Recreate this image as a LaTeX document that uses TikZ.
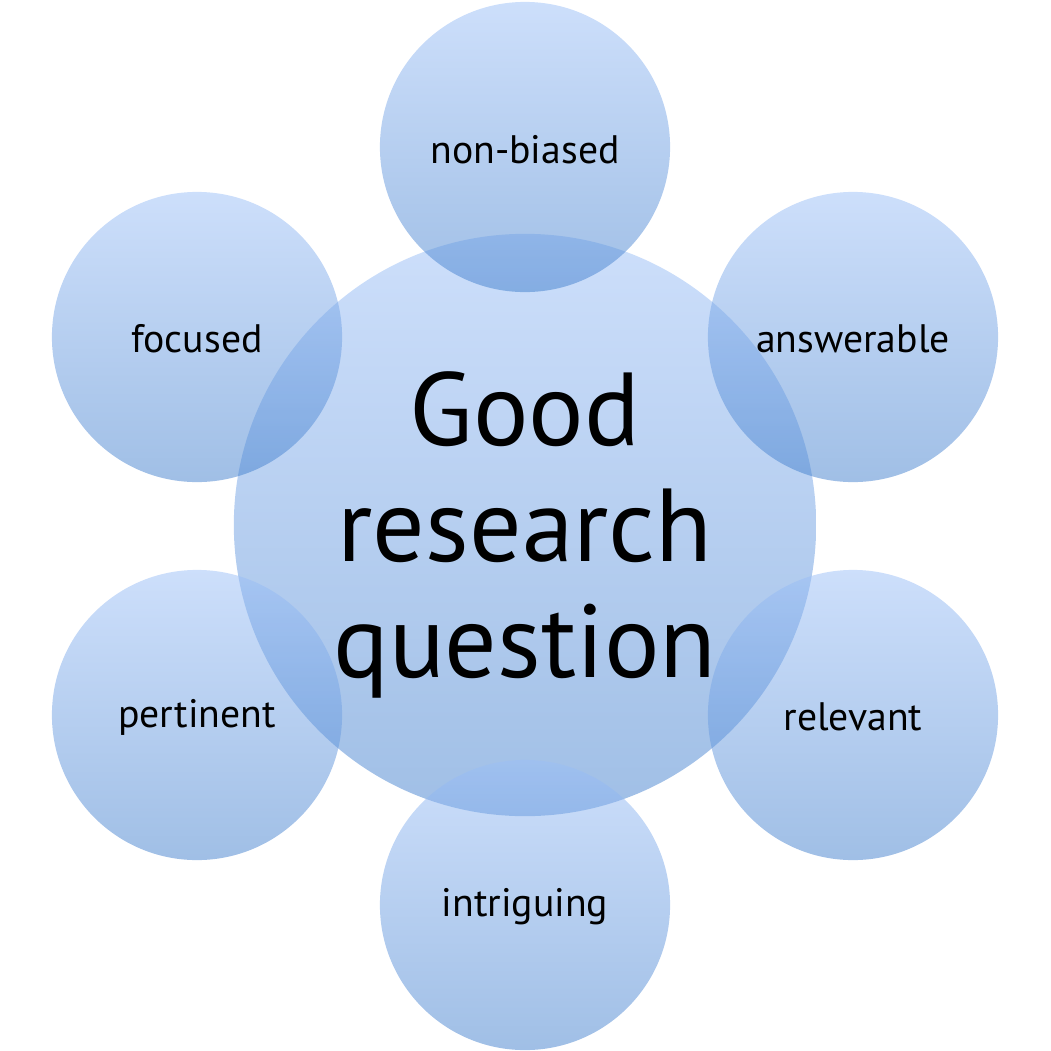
\documentclass[tikz,border=0pt]{standalone}
\usepackage{fontspec}
\setmainfont{PT Sans}
\definecolor{ctop}{RGB}{155,191,247}
\definecolor{cbot}{RGB}{65,127,205}
\begin{document}
\begin{tikzpicture}[x=0.01cm,y=-0.01cm,
  bubble/.style={circle,inner sep=0pt,shading=axis,top color=ctop,bottom color=cbot,
    fill opacity=0.5,text opacity=1,draw=none},
  small/.style={bubble,minimum size=2.9cm,font=\fontsize{11.3}{13}\selectfont},
  big/.style={bubble,minimum size=5.82cm,align=center,font=\fontsize{29.5}{33}\selectfont}]
\useasboundingbox (0,0) rectangle (1050,1051);
\node[big] (c) at (525,525) {};
\node[align=center,font=\fontsize{29.5}{33}\selectfont] (ct) at (525,535) {Good\\research\\question};
\node[small] (t) at (525,147) {};
\node[small] (fo) at (197,337) {};
\node[small] (an) at (853,337) {};
\node[small] (pe) at (197,715) {};
\node[small] (re) at (853,715) {};
\node[small] (in) at (525,905) {};
\begin{scope}[every node/.style={font=\fontsize{11.3}{13}\selectfont}]
\node (tl) at (525,150) {non-biased};
\node (fol) at (197,339) {focused};
\node (anl) at (853,339) {answerable};
\node (pel) at (197,717) {pertinent};
\node (rel) at (853,717) {relevant};
\node (inl) at (525,907) {intriguing};
\end{scope}
\end{tikzpicture}
\end{document}
